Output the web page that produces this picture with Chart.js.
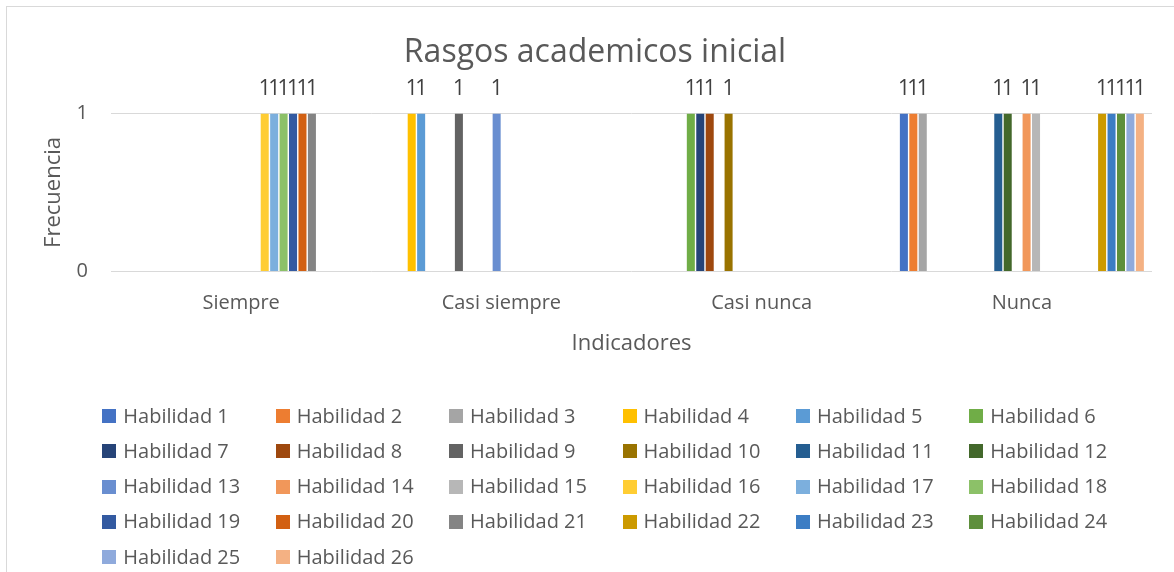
<!DOCTYPE html>
<html><head><meta charset="utf-8">
<script src="https://cdn.jsdelivr.net/npm/chart.js@4.4.1/dist/chart.umd.min.js"></script>
<style>
html,body{margin:0;padding:0;background:#fff;overflow:hidden;}
#wrap{position:relative;width:1174px;height:572px;overflow:hidden;background:#fff;}
#frame{position:absolute;left:6px;top:6px;width:1250px;height:650px;border:1px solid #D9D9D9;box-sizing:border-box;}
#c{position:absolute;left:0;top:0;width:1174px;height:572px;}
#legend{position:absolute;left:0;top:0;width:1174px;height:572px;pointer-events:none;font-family:'Open Sans',sans-serif;font-size:20px;color:#595959;}
.item{position:absolute;height:24px;line-height:24px;white-space:nowrap;}
.box{position:absolute;left:0;top:5.5px;width:14px;height:14px;}
.txt{position:absolute;left:21px;top:0;}
</style></head>
<body>
<div id="wrap"><div id="frame"></div><canvas id="c" width="1174" height="572"></canvas><div id="legend"></div></div>
<script>
// ---- data ----
const categories = ['Siempre', 'Casi siempre', 'Casi nunca', 'Nunca'];
const seriesNames = ['Habilidad 1','Habilidad 2','Habilidad 3','Habilidad 4','Habilidad 5','Habilidad 6',
  'Habilidad 7','Habilidad 8','Habilidad 9','Habilidad 10','Habilidad 11','Habilidad 12',
  'Habilidad 13','Habilidad 14','Habilidad 15','Habilidad 16','Habilidad 17','Habilidad 18',
  'Habilidad 19','Habilidad 20','Habilidad 21','Habilidad 22','Habilidad 23','Habilidad 24',
  'Habilidad 25','Habilidad 26'];
// value of each Habilidad (1..26) in each category; null = blank
const siempre     = [null,null,null,null,null,null,null,null,null,null,null,null,null,null,null,1,1,1,1,1,1,null,null,null,null,null];
const casiSiempre = [null,null,null,1,1,null,null,null,1,null,null,null,1,null,null,null,null,null,null,null,null,null,null,null,null,null];
const casiNunca   = [null,null,null,null,null,1,1,1,null,1,null,null,null,null,null,null,null,null,null,null,null,null,null,null,null,null];
const nunca       = [1,1,1,null,null,null,null,null,null,null,1,1,null,1,1,null,null,null,null,null,null,1,1,1,1,1];
const yTicks = [0, 1];
const seriesColors = ['#4472C4','#ED7D31','#A5A5A5','#FFC000','#5B9BD5','#70AD47',
  '#264478','#9E480E','#636363','#997300','#255E91','#43682B',
  '#698ED0','#F1975A','#B7B7B7','#FFCD33','#7CAFDD','#8CC168',
  '#335AA1','#D26012','#848484','#CC9A00','#3C7DC4','#5E8F3C',
  '#8FAADC','#F4B183'];

const datasets = seriesNames.map((name, i) => ({
  label: name,
  data: [siempre[i], casiSiempre[i], casiNunca[i], nunca[i]],
  backgroundColor: seriesColors[i],
  borderWidth: 0,
  categoryPercentage: 0.943,
  barPercentage: 0.85
}));

const labelPlugin = {
  id: 'barLabels',
  afterDatasetsDraw(chart) {
    const ctx = chart.ctx;
    ctx.save();
    ctx.font = "21px 'Open Sans'";
    ctx.fillStyle = '#404040';
    ctx.textAlign = 'center';
    ctx.textBaseline = 'middle';
    chart.data.datasets.forEach((ds, i) => {
      const meta = chart.getDatasetMeta(i);
      meta.data.forEach((bar, j) => {
        const v = ds.data[j];
        if (v === null || v === undefined) return;
        ctx.fillText(String(v), bar.x, bar.y - 24.5);
      });
    });
    ctx.restore();
  }
};

const htmlLegend = {
  id: 'htmlLegend',
  afterUpdate(chart) {
    const el = document.getElementById('legend');
    el.innerHTML = '';
    chart.data.datasets.forEach((ds, i) => {
      const col = i % 6, row = Math.floor(i / 6);
      const item = document.createElement('div');
      item.className = 'item';
      item.style.left = (102.3 + col * 173.4) + 'px';
      item.style.top = (403.6 + row * 35.25) + 'px';
      const box = document.createElement('span');
      box.className = 'box';
      box.style.background = ds.backgroundColor;
      const txt = document.createElement('span');
      txt.className = 'txt';
      txt.textContent = ds.label;
      item.appendChild(box); item.appendChild(txt);
      el.appendChild(item);
    });
  }
};

new Chart(document.getElementById('c'), {
  type: 'bar',
  data: { labels: categories, datasets },
  options: {
    responsive: false,
    animation: false,
    layout: { padding: { left: 38, right: 22, top: 0, bottom: 200.5 } },
    plugins: {
      legend: { display: false },
      tooltip: { enabled: false },
      title: {
        display: true, text: 'Rasgos academicos inicial', color: '#595959',
        font: { family: 'Open Sans', size: 32, weight: 'normal' },
        padding: { top: 34, bottom: 41 }
      }
    },
    scales: {
      x: {
        grid: { display: false, drawTicks: false },
        border: { display: false },
        ticks: { color: '#595959', font: { family: 'Open Sans', size: 20 }, padding: 19.5 },
        title: { display: true, text: 'Indicadores', color: '#595959',
          font: { family: 'Open Sans', size: 22 }, padding: { top: 0, bottom: 15 } },
        afterFit(s) { s.height = 100; }
      },
      y: {
        min: yTicks[0], max: yTicks[yTicks.length - 1],
        afterBuildTicks(s) { s.ticks = yTicks.map(v => ({ value: v })); },
        ticks: { color: '#595959', font: { family: 'Open Sans', size: 20 }, padding: 23 },
        grid: { color: '#D9D9D9', lineWidth: 1, drawTicks: false },
        border: { display: false },
        title: { display: true, text: 'Frecuencia', color: '#595959',
          font: { family: 'Open Sans', size: 22 }, padding: { top: 3, bottom: 0 } },
        afterFit(s) { s.width = 73; }
      }
    }
  },
  plugins: [labelPlugin, htmlLegend]
});
</script>
</body></html>
